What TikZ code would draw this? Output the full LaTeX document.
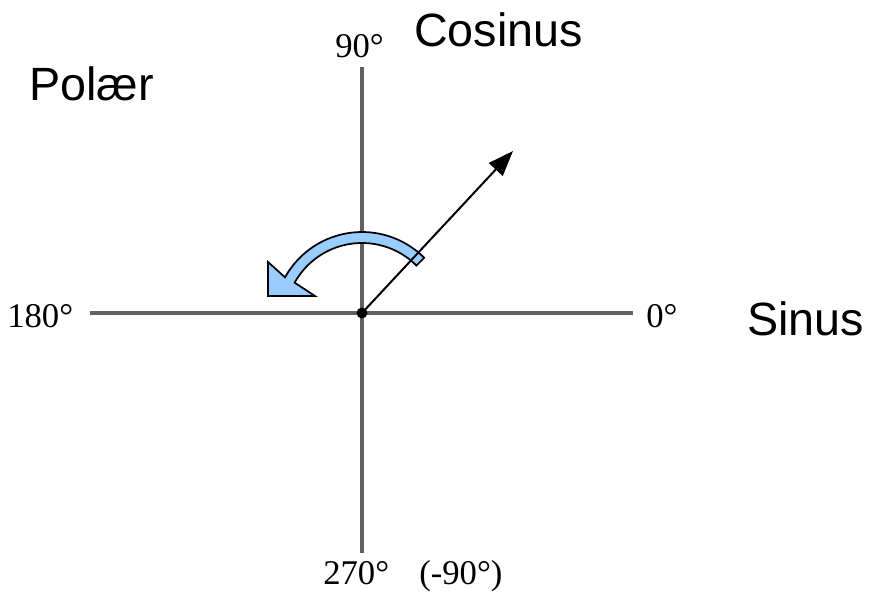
\documentclass[tikz,border=0pt]{standalone}
\usepackage{fontspec}
\setmainfont{Liberation Serif}
\newfontfamily\arialfont{Liberation Sans}
\usetikzlibrary{arrows.meta}
\definecolor{arcblue}{RGB}{153,204,255}
\begin{document}
\begin{tikzpicture}[x=0.75pt,y=-0.75pt,
  axis/.style={draw=black!62,line width=2.5pt},
  sanslbl/.style={inner sep=0pt,anchor=base west,font=\arialfont\fontsize{35}{40}\selectfont},
  seriflbl/.style={inner sep=0pt,anchor=base west,font=\fontsize{26}{30}\selectfont},
  vec/.style={draw=black,line width=1.5pt,-{Triangle[length=19pt,width=14pt]}},
  bigarrow/.style={fill=arcblue,draw=black,line width=1.3pt,line join=miter}]
\useasboundingbox (0,0) rectangle (872,596);
% coordinates
\coordinate (O) at (362,313);
\coordinate (L) at (90,313);
\coordinate (R) at (633,313);
\coordinate (T) at (362,67);
\coordinate (B) at (362,553);
\coordinate (P) at (513,151);
% axes
\draw[axis] (L) -- (R);
\draw[axis] (T) -- (B);
% rotation arrow
\path[bigarrow]
  plot[domain=45:151,samples=40] ({362+88*cos(\x)},{320-88*sin(\x)})
  -- (268,262) -- (268,296) -- (315,296)
  -- plot[domain=151:45,samples=40] ({362+77*cos(\x)},{320-77*sin(\x)})
  -- cycle;
% vector
\draw[vec] (O) -- (P);
\fill (O) circle[radius=5.5];
% labels
\node[seriflbl] (n90) at (335,57) {90°};
\node[sanslbl] (cos) at (414,46) {Cosinus};
\node[sanslbl] (pol) at (29,100) {Polær};
\node[sanslbl] (sin) at (747,335) {Sinus};
\node[seriflbl] (n180) at (7,327) {180°};
\node[seriflbl] (n0) at (646,327) {0°};
\node[seriflbl] (n270) at (323,584) {270°};
\node[seriflbl] (nm90) at (419,584) {(-90°)};
\end{tikzpicture}
\end{document}
